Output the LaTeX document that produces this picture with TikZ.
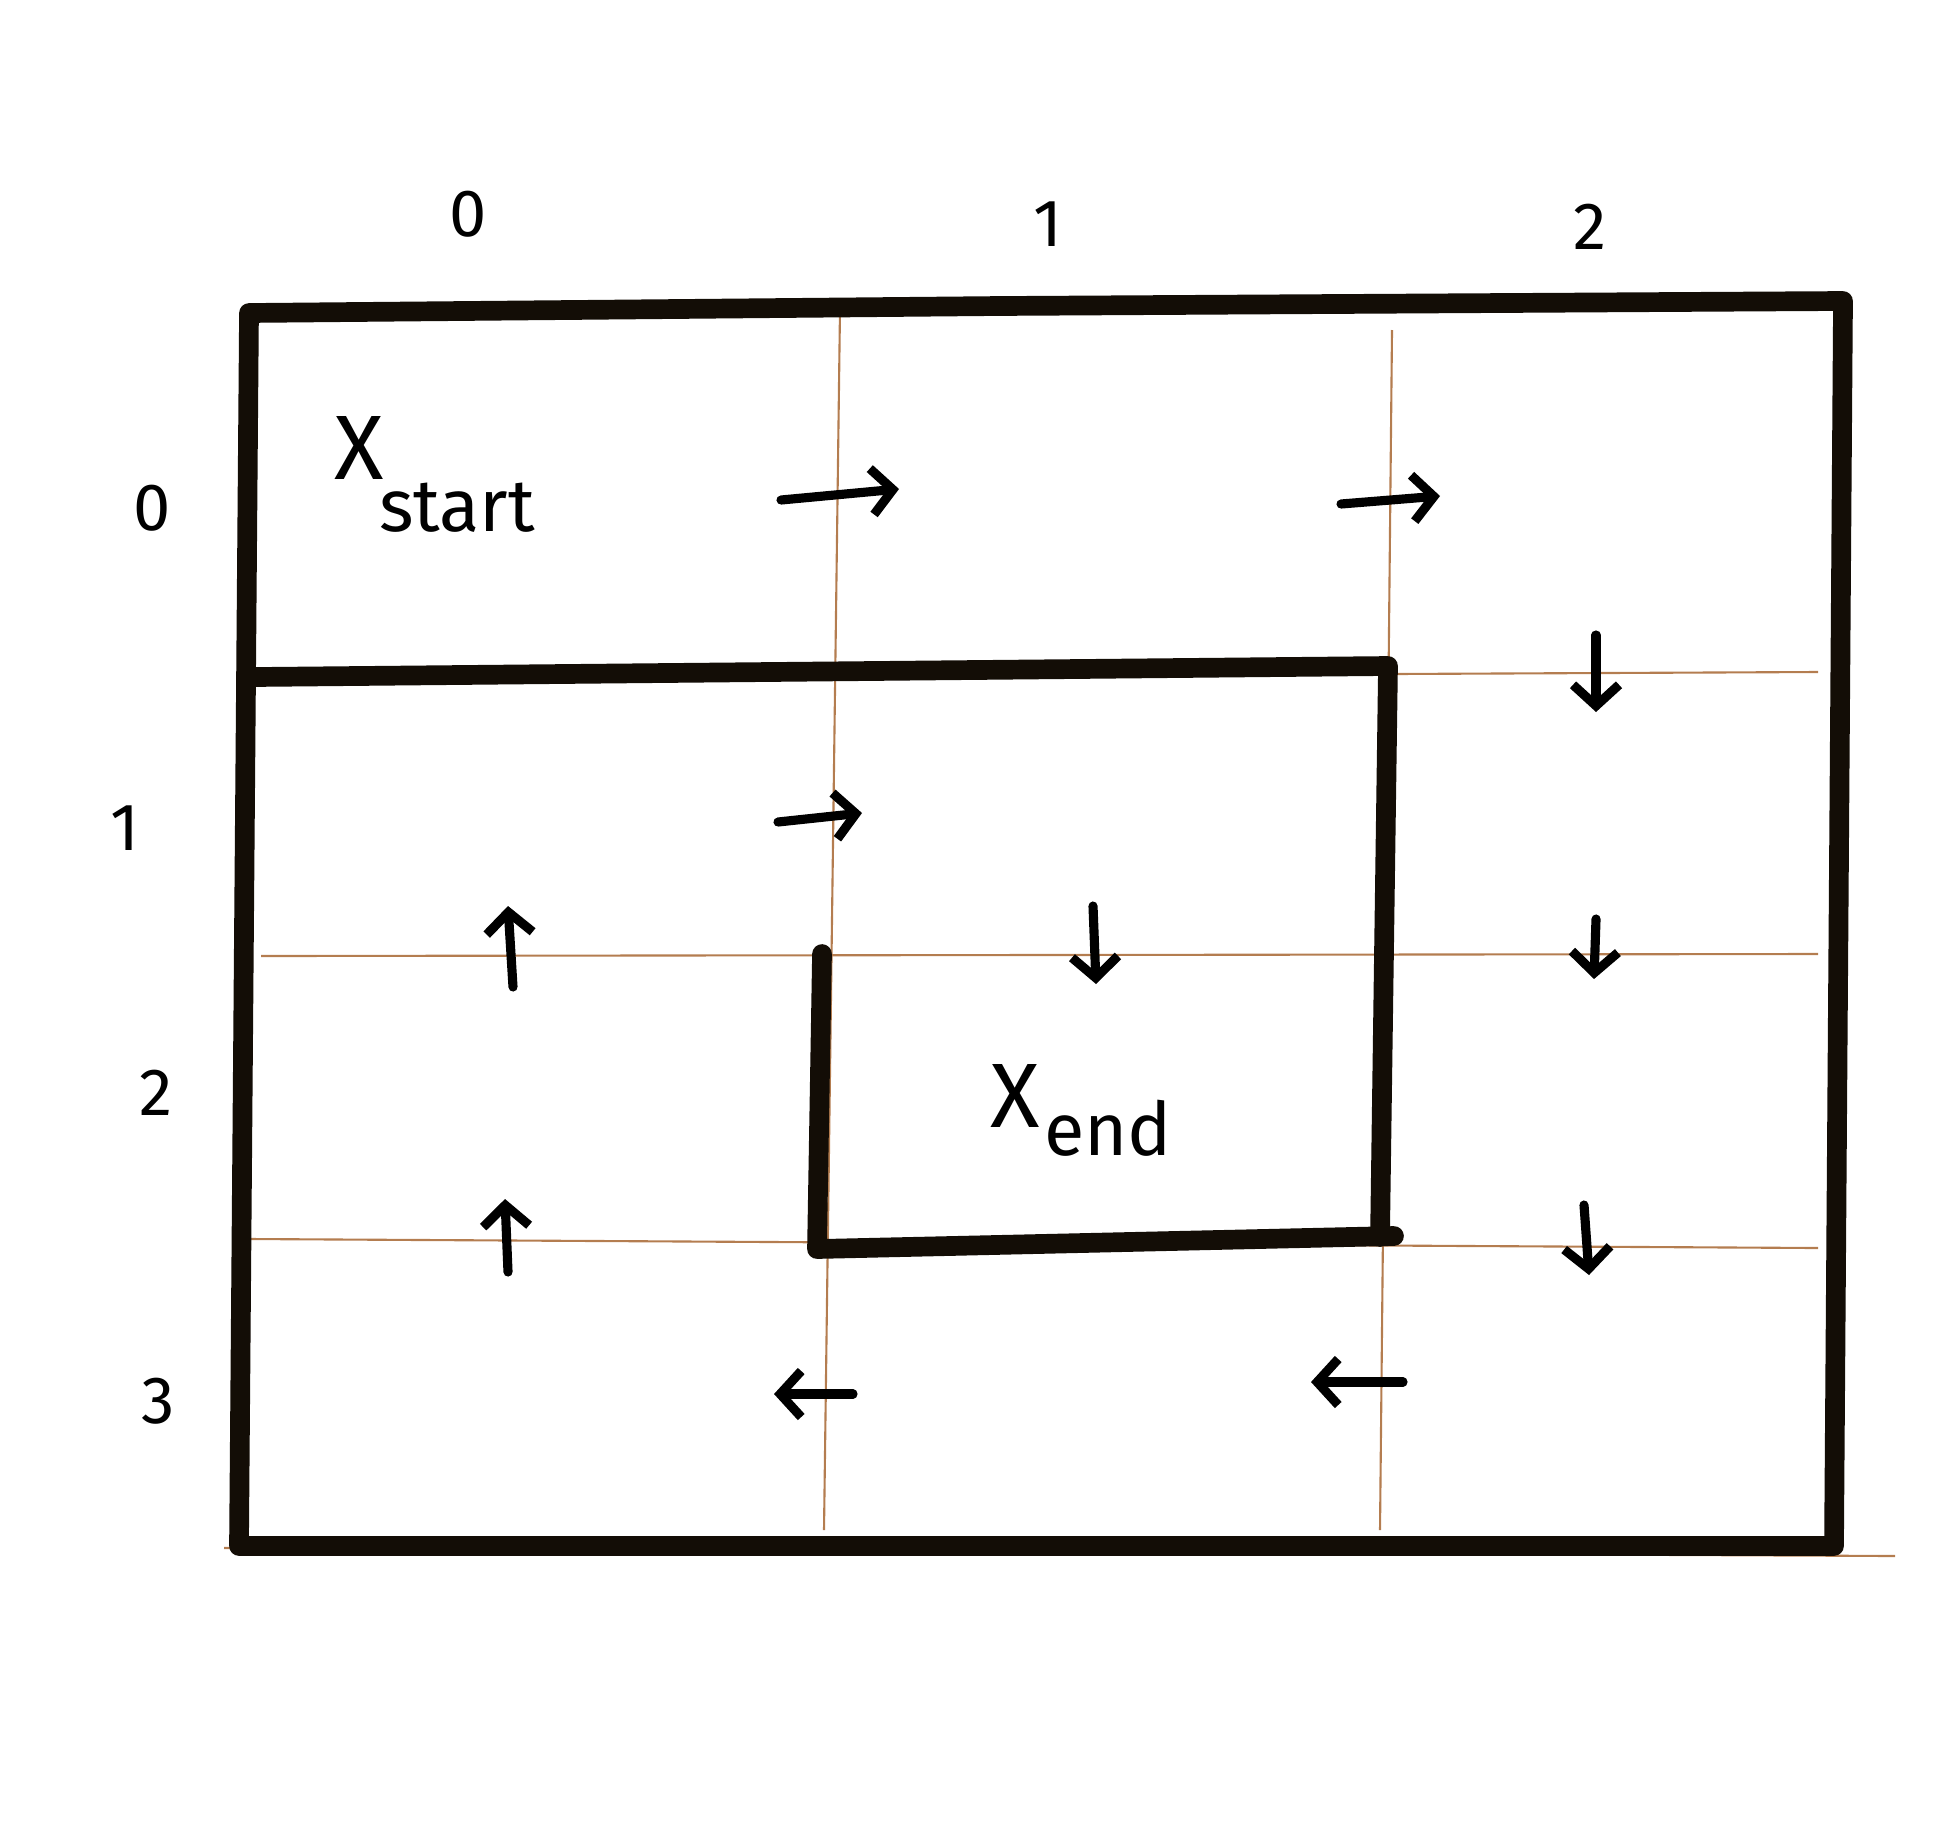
\documentclass[tikz,border=0pt]{standalone}
\usepackage{fontspec}
\setmainfont{Fira Sans}
\usetikzlibrary{arrows.meta}
\definecolor{gridbrown}{RGB}{180,125,80}
\tikzset{
  wall/.style={line width=5.6pt, line cap=round, line join=round, black!90!brown},
  gridline/.style={line width=0.6pt, gridbrown},
  move/.style={line width=2.6pt, line cap=round,
    -{Straight Barb[length=2.1mm, width=4.6mm, line width=2.6pt]}},
  idx/.style={font=\fontsize{19}{19}\selectfont},
  bigx/.style={font=\fontsize{26}{26}\selectfont},
  sub/.style={font=\fontsize{21}{21}\selectfont}
}
\begin{document}
\begin{tikzpicture}[x=0.01cm, y=-0.01cm]
  \useasboundingbox (0,0) rectangle (1952,1824);

  % thin grid
  \draw[gridline] (840,309) -- (824,1530);
  \draw[gridline] (1392,330) -- (1380,1530);
  \draw[gridline] (261,956) -- (1818,954);
  \draw[gridline] (250,1239) -- (1818,1248);
  \draw[gridline] (1394,674) -- (1818,672);
  \draw[gridline] (224,1548) -- (1895,1556);

  % walls
  \draw[wall] (249,313) -- (1000,306) -- (1843,301) -- (1834,1546) -- (239,1546) -- cycle;
  \draw[wall] (255,677) -- (1388,666) -- (1380,1237);
  \draw[wall] (1394,1236) -- (817,1249) -- (822,954);

  % column and row indices
  \node[idx] (c0) at (468,214) {0};
  \node[idx] (c1) at (1048,224) {1};
  \node[idx] (c2) at (1590,227) {2};
  \node[idx] (r0) at (152,508) {0};
  \node[idx] (r1) at (125,828) {1};
  \node[idx] (r2) at (156,1093) {2};
  \node[idx] (r3) at (158,1401) {3};

  % start and end
  \node[bigx] (xs) at (359,448) {X};
  \node[sub] (start) at (457,508) {start};
  \node[bigx] (xe) at (1015,1096) {X};
  \node[sub] (end) at (1108,1128) {end};

  % moves
  \foreach \n/\a/\b in {1/{781,500}/{899,489}, 2/{1341,504}/{1440,496},
      3/{1596,635}/{1596,712}, 4/{778,822}/{862,813}, 5/{513,987}/{508,906},
      6/{1093,906}/{1096,984}, 7/{1596,919}/{1594,979}, 8/{508,1272}/{505,1199},
      9/{1584,1205}/{1589,1275}, 10/{853,1394}/{774,1394}, 11/{1403,1382}/{1311,1382}}{
    \coordinate (m\n a) at (\a);
    \coordinate (m\n b) at (\b);
    \draw[move] (m\n a) -- (m\n b);
  }
\end{tikzpicture}
\end{document}
